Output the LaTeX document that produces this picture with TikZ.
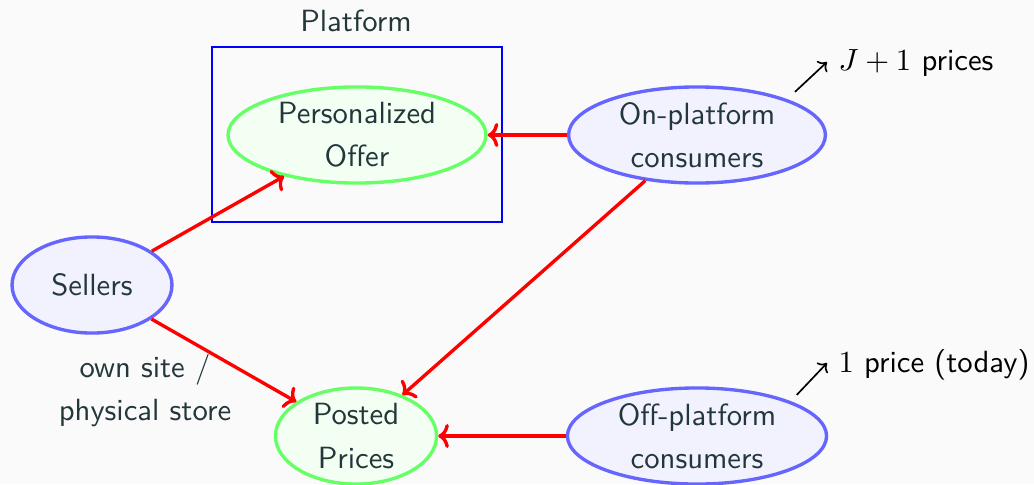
\documentclass[tikz,border=0pt]{standalone}
\usepackage{fontspec}
\usetikzlibrary{shapes.geometric,arrows.meta}
\definecolor{pagebg}{HTML}{FAFAFA}
\definecolor{darkteal}{HTML}{23373B}

\begin{document}
\begin{tikzpicture}[x=0.357pt, y=-0.357pt,
  every node/.style={font=\sffamily\fontsize{10.95}{15.4}\selectfont, text=darkteal},
  agent/.style={ellipse, draw=blue!60, fill=blue!5, line width=1.2pt,
    inner xsep=0pt, inner ysep=-3pt, align=center, minimum height=34.3pt},
  outcome/.style={ellipse, draw=green!60, fill=green!5, line width=1.2pt,
    inner xsep=0pt, inner ysep=-3pt, align=center, minimum height=34.3pt},
  flow/.style={-{Computer Modern Rightarrow[width=8.6pt, length=3.8pt]}, draw=red, line width=1.2pt},
  note/.style={-{Computer Modern Rightarrow[width=5.4pt, length=2.7pt]}, draw=black, line width=0.6pt},
  tag/.style={anchor=base west, inner sep=0pt, text=black},
]
% page background
\fill[pagebg] (0,0) rectangle (1034,484);
\useasboundingbox (0,0) rectangle (1034,484);

% platform box and its title
\node[draw=blue, line width=0.8pt, minimum width=103.5pt, minimum height=62.5pt,
      inner sep=0pt] (platform) at (357,134.5) {};
\node[anchor=base] (platformtitle) at (356,32) {Platform};

% market participants and price outcomes
\node[outcome, minimum width=92.1pt] (offer)   at (357,135) {Personalized\\Offer};
\node[agent,   minimum width=57.1pt] (sellers) at (92,285)  {Sellers};
\node[outcome, minimum width=57.5pt] (posted)  at (356,436) {Posted\\Prices};
\node[agent,   minimum width=91.7pt] (on)      at (697,135) {On-platform\\consumers};
\node[agent,   minimum width=92.5pt] (off)     at (697,436) {Off-platform\\consumers};

% price flows
\draw[flow] (sellers) -- (offer);
\draw[flow] (sellers) -- (posted);
\draw[flow] (on) -- (offer);
\draw[flow] (on) -- (posted);
\draw[flow] (off) -- (posted);

% sales channel remark
\node[align=center] (channel) at (145,391) {own site /\\physical store};

% number of prices seen by each consumer group
\coordinate (jtip) at (827,62);
\node[tag] (jprices) at (838,70) {$J+1$ prices};
\draw[note] ([shift={(6,-8)}]on.north east) -- (jtip);

\coordinate (onetip) at (827,363);
\node[tag] (oneprice) at (838,372) {$1$ price (today)};
\draw[note] ([shift={(7,-6)}]off.north east) -- (onetip);
\end{tikzpicture}
\end{document}
